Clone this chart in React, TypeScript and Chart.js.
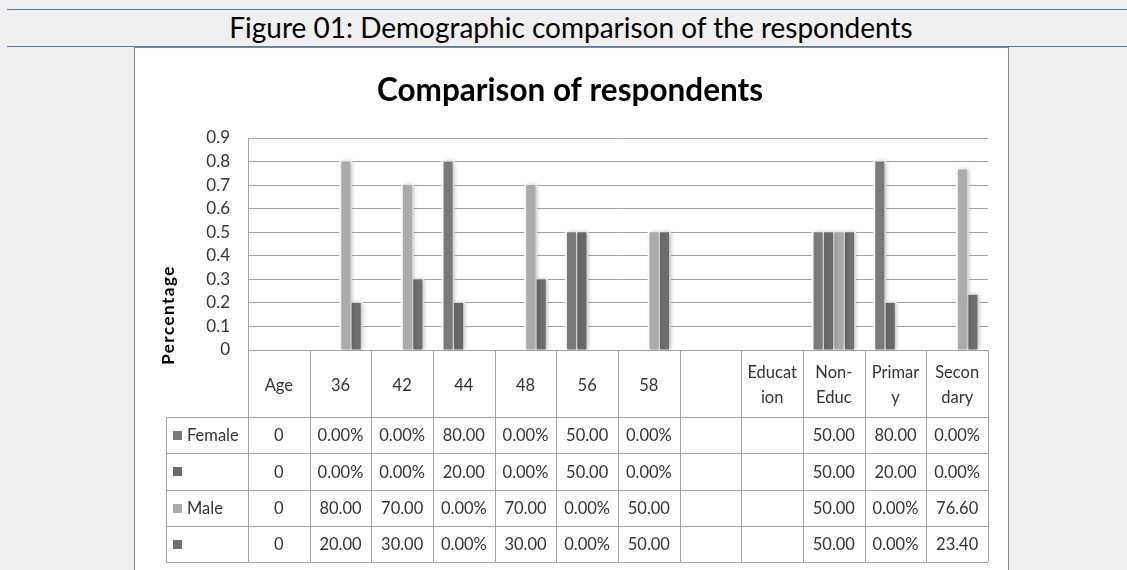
import React, { useEffect, useRef } from "react";
import { Chart, registerables } from "chart.js";

Chart.register(...registerables);

// ---- data ----
const categories = ["Age", "36", "42", "44", "48", "56", "58", "", "Education", "Non-Educ", "Primary", "Secondary"];
const tickLabels: (string | string[])[] = ["Age", "36", "42", "44", "48", "56", "58", "", ["Educat", "ion"], ["Non-", "Educ"], ["Primar", "y"], ["Secon", "dary"]];
const seriesNames = ["Female", "", "Male", ""];
const femaleValues = [0, 0, 0, 0.8, 0, 0.5, 0, null, null, 0.5, 0.8, 0];
const series2Values = [0, 0, 0, 0.2, 0, 0.5, 0, null, null, 0.5, 0.2, 0];
const maleValues = [0, 0.8, 0.7, 0, 0.7, 0, 0.5, null, null, 0.5, 0, 0.766];
const series4Values = [0, 0.2, 0.3, 0, 0.3, 0, 0.5, null, null, 0.5, 0, 0.234];
const seriesColors = ["#7a7a7a", "#6a6a6a", "#ababab", "#6e6e6e"];
const yMin = 0;
const yMax = 0.9;
const yStep = 0.1;

const chartTitle = "Comparison of respondents";
const yTitle = "Percentage";
const caption = "Figure 01: Demographic comparison of the respondents";

const allSeries = [femaleValues, series2Values, maleValues, series4Values];

function formatCell(v: number | null, i: number): string {
  if (v === null || v === undefined) return "";
  if (categories[i] === "Age") return String(v);
  if (v === 0) return "0.00%";
  return (v * 100).toFixed(2);
}

const FONT = "Lato, 'Open Sans', sans-serif";
const TEXT = "#333333";
const LINE = "#a3a3a3";

const shadowPlugin = {
  id: "barShadow",
  beforeDatasetsDraw(chart: any) {
    const ctx = chart.ctx;
    ctx.save();
    ctx.fillStyle = "#ffffff";
    chart.data.datasets.forEach((_: any, di: number) => {
      const meta = chart.getDatasetMeta(di);
      meta.data.forEach((el: any) => {
        if (el.skip) return;
        const h = el.base - el.y;
        if (!(h > 0.5)) return;
        ctx.fillRect(el.x - el.width / 2 - 2, el.y - 2, el.width + 4, h + 2);
      });
    });
    ctx.restore();
    ctx.save();
    ctx.shadowColor = "rgba(0,0,0,0.28)";
    ctx.shadowBlur = 4;
    ctx.shadowOffsetX = 1.5;
    ctx.shadowOffsetY = 0;
  },
  afterDatasetsDraw(chart: any) {
    chart.ctx.restore();
  },
};

const tablePlugin = {
  id: "dataTable",
  afterDraw(chart: any) {
    const ctx = chart.ctx;
    const xs = chart.scales.x;
    const area = chart.chartArea;
    const n = categories.length;
    const colW = xs.getPixelForValue(1) - xs.getPixelForValue(0);
    const top = area.bottom;
    const headerH = 67;
    const rowH = 36.25;
    const legendLeft = 166;
    const rows = allSeries.length;
    const tableBottom = top + headerH + rows * rowH;
    const al = (v: number) => Math.round(v) + 0.5;

    ctx.save();
    ctx.strokeStyle = LINE;
    ctx.lineWidth = 1;
    ctx.beginPath();
    ctx.moveTo(area.left, al(top));
    ctx.lineTo(area.right, al(top));
    for (let i = 0; i <= n; i++) {
      const x = al(xs.getPixelForValue(0) - colW / 2 + i * colW);
      ctx.moveTo(x, top);
      ctx.lineTo(x, tableBottom);
    }
    for (let r = 0; r <= rows; r++) {
      const y = al(top + headerH + r * rowH);
      ctx.moveTo(legendLeft, y);
      ctx.lineTo(area.right, y);
    }
    ctx.moveTo(al(legendLeft), al(top + headerH));
    ctx.lineTo(al(legendLeft), al(tableBottom));
    ctx.stroke();

    ctx.font = `16.5px ${FONT}`;
    ctx.fillStyle = TEXT;
    ctx.textBaseline = "middle";
    for (let r = 0; r < rows; r++) {
      const cy = top + headerH + r * rowH + rowH / 2 + 1;
      ctx.textAlign = "center";
      for (let i = 0; i < n; i++) {
        const t = formatCell(allSeries[r][i], i);
        if (t) ctx.fillText(t, xs.getPixelForValue(i), cy);
      }
      ctx.fillStyle = seriesColors[r];
      ctx.fillRect(173, Math.round(cy - 5), 9, 9);
      ctx.fillStyle = TEXT;
      ctx.textAlign = "left";
      if (seriesNames[r]) ctx.fillText(seriesNames[r], 187, cy);
    }

    ctx.font = `bold 31.5px ${FONT}`;
    ctx.fillStyle = "#000";
    ctx.textAlign = "center";
    ctx.fillText(chartTitle, 570, 91);

    ctx.translate(169, 315);
    ctx.rotate(-Math.PI / 2);
    ctx.font = `bold 17px ${FONT}`;
    (ctx as any).letterSpacing = "1.5px";
    ctx.fillText(yTitle, 0, 0);
    ctx.restore();
  },
};

export default function App() {
  const ref = useRef<HTMLCanvasElement | null>(null);

  useEffect(() => {
    if (!ref.current) return;
    const chart = new Chart(ref.current, {
      type: "bar",
      data: {
        labels: tickLabels as any,
        datasets: allSeries.map((vals, k) => ({
          label: seriesNames[k] || `Series ${k + 1}`,
          data: vals as any,
          backgroundColor: seriesColors[k],
          borderWidth: 0,
          barPercentage: 0.86,
          categoryPercentage: 0.68,
        })),
      },
      options: {
        animation: false,
        responsive: false,
        devicePixelRatio: 1,
        layout: { padding: { left: 0, top: 138, right: 139, bottom: 0 } },
        plugins: {
          legend: { display: false },
          tooltip: { enabled: false },
          title: { display: false },
        },
        scales: {
          x: {
            grid: { display: false, drawTicks: false },
            border: { display: false },
            ticks: {
              color: TEXT,
              font: { family: FONT, size: 16.5, lineHeight: 1.5 },
              crossAlign: "center",
              padding: 23,
              maxRotation: 0,
              autoSkip: false,
            },
            afterFit: (scale: any) => {
              scale.height = 220;
            },
          },
          y: {
            min: yMin,
            max: yMax,
            grid: { color: LINE, drawTicks: false, lineWidth: 1 },
            border: { display: true, color: LINE },
            ticks: {
              stepSize: yStep,
              color: TEXT,
              font: { family: FONT, size: 17 },
              padding: 18,
              callback: (v: any) => String(Math.round(Number(v) * 10) / 10),
            },
            afterFit: (scale: any) => {
              scale.width = 248;
            },
          },
        },
      },
      plugins: [shadowPlugin, tablePlugin],
    });
    return () => chart.destroy();
  }, []);

  return (
    <div
      style={{
        position: "fixed",
        left: 0,
        top: 0,
        width: 1127,
        height: 570,
        background: "#f0f0f0",
        overflow: "hidden",
      }}
    >
      <div style={{ position: "absolute", left: 7, right: 0, top: 9, height: 1, background: "#4a7ebb" }} />
      <div
        style={{
          position: "absolute",
          left: 0,
          width: 1142,
          top: 9,
          height: 36,
          lineHeight: "36px",
          textAlign: "center",
          fontFamily: FONT,
          fontSize: 28,
          color: "#000",
        }}
      >
        {caption}
      </div>
      <div style={{ position: "absolute", left: 7, right: 0, top: 46, height: 1, background: "#4a7ebb" }} />
      <div
        style={{
          position: "absolute",
          left: 134,
          top: 47,
          width: 875,
          height: 600,
          boxSizing: "border-box",
          background: "#ffffff",
          border: "1.5px solid #888888",
        }}
      />
      <canvas ref={ref} width={1127} height={570} style={{ position: "absolute", left: 0, top: 0 }} />
    </div>
  );
}
